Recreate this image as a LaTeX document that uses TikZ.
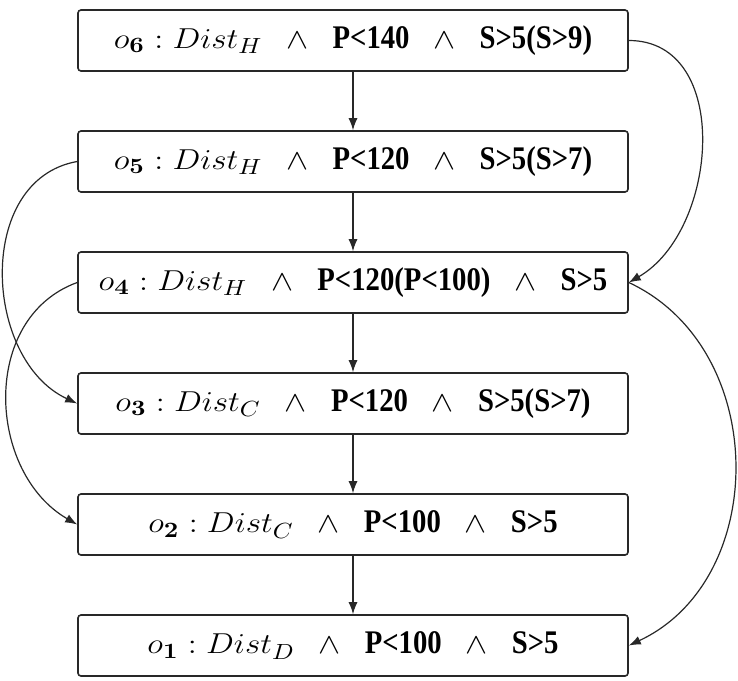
\documentclass[tikz,border=0pt]{standalone}
\usepackage[no-math]{fontspec}
\usepackage{amsmath}
\usepackage{graphicx}
\setmainfont{Liberation Serif}
\usetikzlibrary{
    arrows.meta,
    positioning
}
\definecolor{boxgray}{RGB}{40,40,40}
\newcommand{\dist}[2]{\scalebox{1.15}[1]{\fontsize{15.5}{18}\selectfont$o_{\mathbf{#1}}:Dist_{#2}$}}
\newcommand{\andop}{\hspace{12pt}\scalebox{1.15}[1]{\fontsize{15}{18}\selectfont$\wedge$}\hspace{12pt}}
\newcommand{\prop}[1]{\scalebox{0.87}[1]{#1}}

\begin{document}
\begin{tikzpicture}[
        node distance=29.2pt,
        cond/.style={draw=boxgray, line width=0.8pt, rounded corners=1.5pt, minimum width=275pt, minimum height=30.5pt, inner xsep=6pt, font=\fontsize{16.5}{18}\selectfont\bfseries},
        arrow/.style={-{Latex[length=6pt,width=4.5pt]}, line width=0.6pt, draw=boxgray}
    ]
        \useasboundingbox (-176.5pt,20.25pt) rectangle (192.5pt,-319.75pt);

        % Options
        \node[cond] (o6) at (0,0) {\dist{6}{H}\andop\prop{P<140}\andop\prop{S>5(S>9)}};
        \node[cond, below=of o6] (o5) {\dist{5}{H}\andop\prop{P<120}\andop\prop{S>5(S>7)}};
        \node[cond, below=of o5] (o4) {\dist{4}{H}\andop\prop{P<120(P<100)}\andop\prop{S>5}};
        \node[cond, below=of o4] (o3) {\dist{3}{C}\andop\prop{P<120}\andop\prop{S>5(S>7)}};
        \node[cond, below=of o3] (o2) {\dist{2}{C}\andop\prop{P<100}\andop\prop{S>5}};
        \node[cond, below=of o2] (o1) {\dist{1}{D}\andop\prop{P<100}\andop\prop{S>5}};

        % Arrows
        \draw[arrow] (o6) -- (o5);
        \draw[arrow] (o5) -- (o4);
        \draw[arrow] (o4) -- (o3);
        \draw[arrow] (o3) -- (o2);
        \draw[arrow] (o2) -- (o1);

        % Side arrows
        \draw[arrow] (o6.east) to[out=0, in=30, looseness=1.1] (o4.east);
        \draw[arrow] (o4.east) to[out=-25, in=25, looseness=1.1] (o1.east);
        \draw[arrow] (o5.west) to[out=190, in=155, looseness=1.1] (o3.west);
        \draw[arrow] (o4.west) to[out=200, in=150, looseness=1.1] (o2.west);

    \end{tikzpicture}
\end{document}
